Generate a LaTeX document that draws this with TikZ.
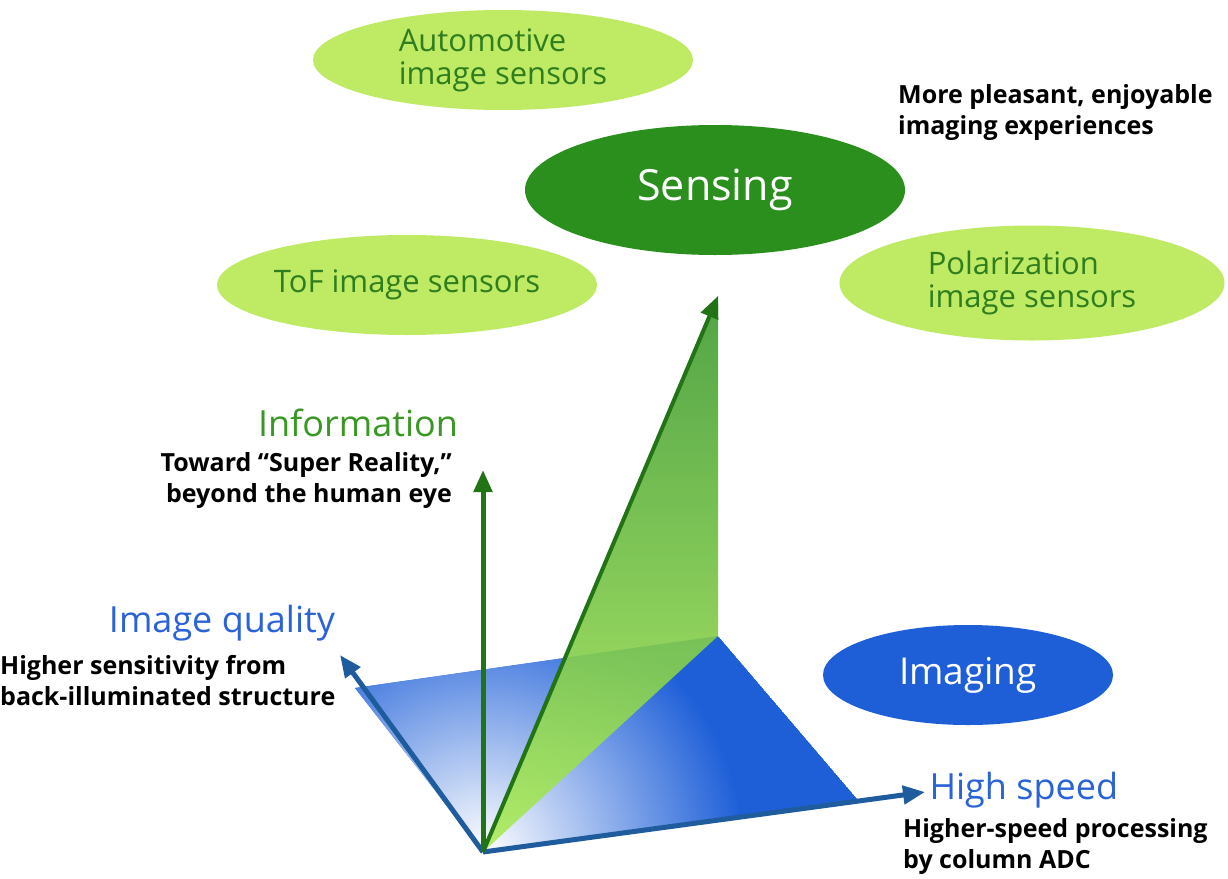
\documentclass[tikz,border=0pt]{standalone}
\usepackage{fontspec}
\setmainfont{Open Sans}
\usetikzlibrary{arrows.meta,shapes.geometric}
\definecolor{lgreen}{HTML}{BFEA63}
\definecolor{dgreen}{HTML}{2A8F1C}
\definecolor{tgreen}{HTML}{2E7D1E}
\definecolor{iblue}{HTML}{1E5FD8}
\definecolor{tblue}{HTML}{2A62D8}
\definecolor{ablue}{HTML}{1F5C9E}
\tikzset{
 bubble/.style={ellipse,fill=lgreen,text=tgreen,font=\fontsize{31}{33}\selectfont,align=left,minimum width=380pt,minimum height=100pt,inner sep=0pt},
 ax/.style={line width=5pt,-{Triangle[length=22pt,width=18pt]}},
 head/.style={font=\fontsize{36}{38}\selectfont},
 note/.style={font=\fontsize{25}{31}\selectfont\bfseries,text=black,inner sep=0pt},
}
\begin{document}
\begin{tikzpicture}[x=1pt,y=-1pt]
\useasboundingbox (0,0) rectangle (1228,878);
\fill[white] (0,0) rectangle (1228,878);
\coordinate (o) at (483,852);
\coordinate (q) at (355,688);
\coordinate (c) at (718,636);
\coordinate (s) at (858,800);
\coordinate (apex) at (718,296);
% plane
\begin{scope}
\clip (o)--(q)--(c)--(s)--cycle;
\fill[iblue] (o)--(q)--(c)--(s)--cycle;
\shade[inner color=white,outer color=iblue] (o) circle (260);
\end{scope}
% green triangle
\begin{scope}
\clip (o)--(apex)--(c)--cycle;
\shade[top color=dgreen!90,bottom color=lgreen!90!green,opacity=0.9] (470,296) rectangle (720,852);
\end{scope}
% axes
\draw[ax,draw=ablue] (o) -- (340,655);
\draw[ax,draw=ablue] (o) -- (925,792);
\draw[ax,draw=dgreen!80!black] (o) -- (483,470);
\draw[ax,draw=dgreen!80!black,line width=4pt] (o) -- (apex);
% bubbles
\node[bubble] (auto) at (503,60) {Automotive\\image sensors};
\node[bubble] (tof) at (407,285) {ToF image sensors};
\node[bubble,minimum width=385pt,minimum height=115pt] (pol) at (1032,283) {Polarization\\image sensors};
\node[ellipse,fill=dgreen,text=white,font=\fontsize{43}{45}\selectfont,minimum width=380pt,minimum height=130pt] (sens) at (715,190) {Sensing};
\node[ellipse,fill=iblue,text=white,font=\fontsize{37}{39}\selectfont,minimum width=290pt,minimum height=100pt] (img) at (968,675) {Imaging};
% labels
\node[note,align=left,anchor=north west] (pl) at (898,84) {More pleasant, enjoyable\\imaging experiences};
\node[head,text=dgreen!90!lgreen,anchor=south] (inf) at (358,440) {Information};
\node[note,align=right,anchor=north east] (tow) at (452,452) {Toward “Super Reality,”\\beyond the human eye};
\node[head,text=tblue,anchor=south] (iq) at (222,645) {Image quality};
\node[note,align=left,anchor=north west] (hs) at (0,655) {Higher sensitivity from\\back-illuminated structure};
\node[head,text=tblue,anchor=south west] (sp) at (926,812) {High speed};
\node[note,align=left,anchor=north west] (hp) at (903,818) {Higher-speed processing\\by column ADC};
\end{tikzpicture}
\end{document}
